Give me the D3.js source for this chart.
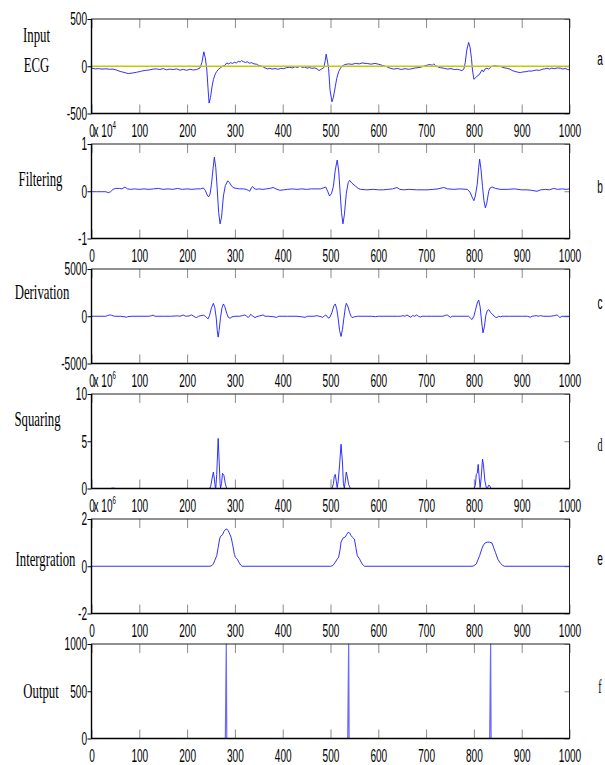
<!DOCTYPE html>
<html>
<head>
<meta charset="utf-8">
<script src="https://cdn.jsdelivr.net/npm/d3@7"></script>
<style>
  body { margin: 0; background: #fff; }
  svg { display: block; }
  .tick text { font-family: "Liberation Sans", Arial, sans-serif; font-size: 18px; fill: #000; }
  .name { font-family: "Liberation Serif", "Times New Roman", serif; font-size: 22px; fill: #000; }
  .expo { font-family: "Liberation Sans", Arial, sans-serif; font-size: 18px; fill: #000; }
  .tag { font-size: 18px; fill: #000; }
</style>
</head>
<body>
<div id="chart"></div>
<script>
// sample positions on the x axis, shared by all six panels
const xTicks = [0, 100, 200, 300, 400, 500, 600, 700, 800, 900, 1000];

// y tick labels per panel
const inputTicks = [-500, 0, 500];
const filterTicks = [-1, 0, 1];
const derivTicks = [-5000, 0, 5000];
const squareTicks = [0, 5, 10];
const integTicks = [-2, 0, 2];
const outputTicks = [0, 500, 1000];

// the yellow reference level drawn over the input ECG
const inputBaseline = [[0, 0], [1000, 0]];

// series: [sample, value]
const inputEcg = [[0,-20],[8,-28],[15,-25],[22,-30],[30,-27],[38,-32],[45,-30],[52,-40],[60,-55],[68,-65],[77,-78],[85,-72],[94,-64],[102,-55],[110,-45],[115,-43],[122,-38],[130,-30],[136,-28],[143,-35],[150,-25],[157,-38],[164,-30],[171,-35],[178,-28],[185,-42],[192,-33],[199,-43],[206,-32],[213,-40],[220,-35],[227,-18],[231,40],[235,153],[238,90],[241,-20],[244,-250],[246,-390],[249,-330],[252,-220],[255,-142],[259,-80],[262,-55],[265,-35],[270,-15],[274,0],[279,10],[283,35],[287,25],[291,38],[295,30],[299,42],[303,35],[307,52],[311,45],[314,60],[318,48],[322,40],[326,48],[330,32],[335,38],[340,25],[345,22],[350,8],[356,0],[360,-10],[363,-18],[368,-28],[373,-22],[378,-30],[384,-24],[390,-32],[396,-22],[402,-26],[408,-15],[415,-10],[420,-18],[426,-5],[431,-14],[436,0],[441,-12],[446,-8],[451,-20],[456,-14],[461,-22],[467,-18],[472,-28],[476,-46],[481,-30],[486,-15],[489,60],[491,128],[494,40],[496,-20],[499,-250],[503,-376],[506,-330],[510,-217],[513,-130],[517,-57],[521,-20],[524,0],[530,18],[538,25],[545,20],[552,30],[560,25],[566,35],[570,32],[578,28],[585,22],[593,30],[601,21],[608,10],[614,0],[618,-5],[622,-15],[625,-21],[632,-30],[640,-24],[648,-34],[656,-26],[663,-32],[667,-30],[675,-20],[683,-15],[690,-8],[695,0],[702,12],[708,18],[713,10],[716,25],[720,5],[726,-10],[730,-15],[738,-22],[745,-30],[752,-25],[759,-35],[765,-32],[770,-38],[775,-46],[779,-30],[782,40],[785,170],[789,252],[792,200],[795,80],[797,-40],[800,-138],[804,-120],[807,-103],[811,-90],[815,-55],[817,-39],[820,-60],[823,-30],[827,-21],[831,-30],[835,-10],[838,0],[845,5],[850,0],[855,0],[860,-12],[865,-18],[869,-21],[875,-30],[880,-45],[886,-55],[891,-62],[897,-67],[903,-60],[909,-58],[915,-50],[920,-52],[925,-46],[931,-40],[937,-44],[943,-32],[948,-28],[953,-21],[958,-30],[963,-20],[968,-26],[975,-18],[981,-21],[986,-30],[991,-24],[996,-35],[1000,-39]];

const filtered = [[0,-0.01],[10,-0.01],[20,-0.01],[30,-0.01],[35,-0.03],[40,-0.01],[45,0.04],[50,0.06],[58,0.06],[64,0.05],[70,0.09],[75,0.05],[82,0.04],[90,0.05],[100,0.04],[110,0.05],[120,0.04],[130,0.05],[140,0.06],[150,0.04],[160,0.05],[170,0.04],[180,0.06],[190,0.04],[200,0.05],[210,0.04],[220,0.05],[228,0.05],[234,0.07],[238,0.02],[242,-0.08],[245,-0.12],[248,-0.06],[251,0.15],[254,0.45],[257,0.72],[260,0.5],[263,0.05],[266,-0.45],[269,-0.69],[272,-0.55],[276,-0.1],[280,0.12],[285,0.22],[289,0.18],[293,0.11],[298,0.07],[304,0.06],[310,0.05],[318,0.05],[324,0.04],[328,0.02],[331,0.0],[335,0.08],[337,0.1],[340,0.06],[344,0.04],[350,0.05],[358,0.04],[366,0.05],[373,0.06],[380,0.08],[386,0.05],[394,0.02],[402,0.03],[410,0.04],[420,0.05],[430,0.04],[440,0.05],[450,0.04],[460,0.05],[470,0.05],[479,0.05],[485,0.07],[490,0.09],[494,0.0],[498,-0.1],[502,-0.05],[506,0.1],[510,0.45],[514,0.66],[517,0.45],[520,0.0],[523,-0.45],[526,-0.69],[529,-0.5],[533,-0.05],[537,0.18],[540,0.23],[545,0.17],[552,0.11],[558,0.06],[563,0.04],[575,0.03],[590,0.04],[600,0.03],[611,0.03],[620,0.04],[630,0.05],[639,0.08],[645,0.04],[653,0.03],[665,0.04],[680,0.03],[702,0.03],[715,0.04],[725,0.05],[737,0.08],[745,0.05],[758,0.04],[770,0.05],[786,0.04],[792,-0.02],[796,-0.12],[800,-0.2],[803,-0.1],[807,0.15],[810,0.5],[812,0.68],[815,0.45],[818,0.1],[821,-0.2],[824,-0.35],[827,-0.25],[831,0.0],[834,0.07],[838,0.09],[845,0.06],[855,0.04],[870,0.04],[885,0.05],[900,0.03],[911,0.03],[920,0.02],[932,0.0],[940,0.03],[950,0.04],[958,0.03],[967,0.06],[975,0.04],[985,0.05],[993,0.04],[1000,0.05]];

const derivative = [[0,0],[30,0],[34,80],[38,140],[42,100],[48,0],[60,0],[70,-60],[73,-105],[76,-40],[85,0],[120,0],[126,60],[129,110],[133,0],[150,0],[165,0],[180,40],[185,0],[192,120],[197,0],[204,30],[209,140],[213,30],[217,-100],[220,-140],[224,0],[229,60],[234,120],[238,0],[241,-150],[244,-280],[247,100],[251,900],[255,1370],[258,900],[261,-200],[263,-1500],[265,-2210],[267,-1500],[270,-100],[273,900],[276,1300],[279,1000],[283,300],[286,-100],[290,-210],[294,-60],[300,0],[310,0],[316,70],[321,140],[324,20],[328,-140],[331,40],[333,210],[337,30],[342,-140],[346,-30],[352,40],[359,140],[363,0],[370,0],[380,-40],[387,-120],[392,0],[410,0],[430,0],[440,-60],[447,-110],[452,0],[465,0],[472,60],[476,0],[480,-40],[483,-140],[486,0],[490,110],[493,0],[496,-210],[499,-80],[503,400],[507,1100],[510,1300],[513,800],[516,-200],[519,-1500],[522,-2140],[525,-1400],[528,-200],[531,900],[533,1370],[536,1100],[540,400],[543,0],[545,-140],[550,-60],[556,0],[570,0],[585,0],[594,-40],[600,0],[620,0],[640,0],[646,0],[652,60],[656,0],[660,140],[664,0],[668,-100],[672,80],[676,0],[680,140],[684,0],[688,-80],[692,0],[700,0],[712,0],[725,0],[735,0],[740,80],[744,140],[748,0],[751,-110],[755,0],[765,0],[785,0],[789,0],[793,-200],[796,-350],[800,0],[803,600],[807,1400],[810,1720],[813,1000],[816,-500],[819,-1755],[822,-1100],[825,100],[828,600],[831,700],[835,400],[840,140],[845,-100],[848,-140],[852,0],[856,-60],[859,0],[875,0],[900,0],[912,0],[918,-100],[922,0],[930,60],[936,0],[939,70],[945,0],[960,0],[968,60],[974,140],[977,0],[980,-140],[984,0],[1000,0]];

const squared = [[0,0],[40,0],[45,0.05],[50,0],[245,0],[249,0.1],[252,1.0],[255,1.74],[257,1.0],[259,0.1],[260,0],[262,1.5],[265,5.3],[267,3.0],[269,0.5],[270,0.05],[272,0.5],[274,1.6],[277,1.4],[280,0.5],[283,0],[503,0],[506,0.5],[508,1.3],[510,1.49],[512,0.8],[514,0.1],[516,0.7],[519,2.5],[522,4.68],[525,2.8],[527,0.5],[529,0.05],[531,0.8],[533,1.74],[535,1.3],[538,0.4],[542,0],[800,0],[803,0.3],[805,1.5],[807,1.6],[809,2.55],[811,1.2],[813,0.1],[815,1.0],[818,3.1],[820,2.5],[823,0.8],[826,0.1],[828,0],[831,0.35],[833,0.3],[836,0],[1000,0]];

const integrated = [[0,0],[248,0],[252,0.03],[255,0.1],[258,0.25],[262,0.45],[265,0.8],[268,1.15],[270,1.27],[274,1.33],[277,1.47],[280,1.55],[283,1.58],[286,1.5],[288,1.42],[292,1.23],[295,0.95],[297,0.73],[299,0.5],[301,0.38],[305,0.3],[309,0.15],[312,0.05],[315,0],[500,0],[505,0.03],[510,0.17],[514,0.3],[517,0.38],[520,0.7],[522,1.02],[526,1.19],[531,1.24],[534,1.35],[537,1.44],[540,1.41],[543,1.3],[546,1.22],[550,1.15],[553,0.8],[556,0.45],[561,0.3],[566,0.1],[571,0],[796,0],[800,0.02],[805,0.1],[809,0.3],[812,0.45],[817,0.76],[820,0.9],[823,0.98],[828,1.02],[833,1.02],[838,0.98],[842,0.75],[845,0.59],[850,0.3],[855,0.14],[860,0.04],[864,0],[1000,0]];

const output = [[0,0],[280,0],[281,500],[282,1000],[283,0],[536,0],[537,500],[538,1000],[539,0],[833,0],[834,500],[835,1000],[836,0],[1000,0]];

// panel names, multipliers and right-hand tags
const names = [["Input", "ECG"], ["Filtering"], ["Derivation"], ["Squaring"], ["Intergration"], ["Output"]];
const exponents = [null, "4", null, "6", "6", null];
const tags = ["a", "b", "c", "d", "e", "f"];

// page layout
const W = 605, H = 765,
  left = 91.5, right = 569.5,
  plotH = 94.5,
  tops = [19, 144, 269, 394, 519, 644],
  sx = 0.56;            // the picture's text is squeezed sideways

// where each name sits: centre x, first baseline offset from panel top
const namePos = [[36.5, 23], [40.5, 42], [42, 30], [37.5, 32], [45.5, 47], [41, 54]];
const tagPos = [46, 49, 40, 57, 46, 49];
const tagSerif = [false, false, false, true, false, true];

const panels = [
  { data: inputEcg, ticks: inputTicks },
  { data: filtered, ticks: filterTicks },
  { data: derivative, ticks: derivTicks },
  { data: squared, ticks: squareTicks },
  { data: integrated, ticks: integTicks },
  { data: output, ticks: outputTicks }
];

// plain numbers with a hyphen for the minus sign, like the original
const plain = d => String(d);

let svg = d3.select("#chart")
  .append("svg")
  .attr("width", W)
  .attr("height", H);

let x = d3.scaleLinear().domain([0, 1000]).range([left, right]);

panels.forEach(function(p, i) {
  let top = tops[i], bottom = top + plotH;
  let y = d3.scaleLinear()
    .domain([p.ticks[0], p.ticks[p.ticks.length - 1]])
    .range([bottom, top]);

  let g = svg.append("g").attr("class", "panel");

  // inward ticks along the bottom and top edges
  g.append("g")
    .attr("transform", "translate(0," + bottom + ")")
    .call(d3.axisTop(x).tickValues(xTicks).tickSize(9).tickFormat(""));
  g.append("g")
    .attr("transform", "translate(0," + top + ")")
    .call(d3.axisBottom(x).tickValues(xTicks).tickSize(9).tickFormat(""));

  // x labels
  g.append("g")
    .attr("class", "xlab")
    .attr("transform", "translate(0," + bottom + ")")
    .call(d3.axisBottom(x).tickValues(xTicks).tickSize(0).tickPadding(11).tickFormat(plain))
    .selectAll("text")
    .attr("transform", "scale(" + sx + ",1)");

  // y axis: short outward ticks on the left with labels
  g.append("g")
    .attr("class", "ylab")
    .attr("transform", "translate(" + left + ",0)")
    .call(d3.axisLeft(y).tickValues(p.ticks).tickSize(4).tickFormat(plain))
    .selectAll("text")
    .attr("x", -4.5 / sx)
    .attr("transform", "scale(" + sx + ",1)");

  // inward ticks on the right
  g.append("g")
    .attr("transform", "translate(" + right + ",0)")
    .call(d3.axisLeft(y).tickValues(p.ticks).tickSize(5).tickFormat(""));

  g.selectAll(".domain").remove();
  g.selectAll(".tick line").attr("stroke", "#8a8a8a");
  g.selectAll(".ylab .tick line").attr("stroke", "#000");

  // the trace
  let line = d3.line()
    .x(d => x(d[0]))
    .y(d => y(d[1]));

  g.append("path")
    .datum(p.data)
    .attr("fill", "none")
    .attr("stroke", i === 5 ? "#6a6aff" : "#1a1aff")
    .attr("stroke-width", i === 5 ? 1.2 : 0.9)
    .attr("stroke-linejoin", "round")
    .attr("d", line);

  if (i === 0) {
    g.append("path")
      .datum(inputBaseline)
      .attr("fill", "none")
      .attr("stroke", "#c8c800")
      .attr("stroke-width", 1.3)
      .attr("d", line);
  }

  // box
  g.append("rect")
    .attr("x", left)
    .attr("y", top)
    .attr("width", right - left)
    .attr("height", plotH)
    .attr("fill", "none")
    .attr("stroke", "#222")
    .attr("stroke-width", 1);
  g.append("line")
    .attr("x1", left).attr("x2", right)
    .attr("y1", bottom).attr("y2", bottom)
    .attr("stroke", "#000").attr("stroke-width", 1.6);
  g.append("line")
    .attr("x1", left).attr("x2", left)
    .attr("y1", top).attr("y2", bottom)
    .attr("stroke", "#000").attr("stroke-width", 1.4);

  // multiplier above the panel
  if (exponents[i]) {
    let e = g.append("text")
      .attr("class", "expo")
      .attr("transform", "translate(" + (left + 2) + "," + (top - 7) + ") scale(" + sx + ",1)")
      .text("x 10");
    e.append("tspan")
      .attr("dy", -8)
      .style("font-size", "11px")
      .text(exponents[i]);
  }

  // panel name on the left
  names[i].forEach(function(n, k) {
    g.append("text")
      .attr("class", "name")
      .attr("text-anchor", "middle")
      .attr("transform", "translate(" + namePos[i][0] + "," + (top + namePos[i][1] + k * 30) + ") scale(0.58,1)")
      .text(n);
  });

  // letter tag on the right
  g.append("text")
    .attr("class", "tag")
    .attr("text-anchor", "middle")
    .style("font-family", tagSerif[i] ? "'Liberation Serif', serif" : "'Liberation Sans', sans-serif")
    .attr("transform", "translate(600," + (top + tagPos[i]) + ") scale(" + sx + ",1)")
    .text(tags[i]);
});
</script>
</body>
</html>
